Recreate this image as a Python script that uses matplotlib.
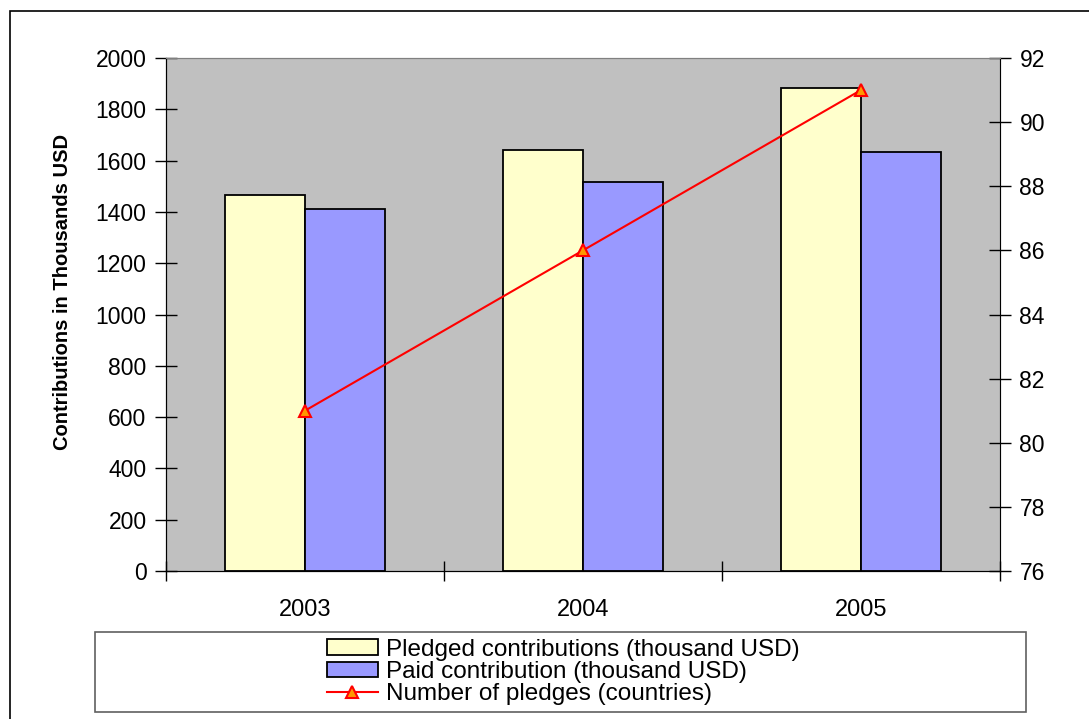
import numpy as np
import matplotlib.pyplot as plt
from matplotlib.patches import Rectangle
from matplotlib.ticker import FixedLocator, NullFormatter

plt.rcParams['font.family'] = ['Liberation Sans', 'DejaVu Sans']

# data
years = ['2003', '2004', '2005']
pledged = [1466, 1641, 1883]
paid = [1411, 1517, 1634]
pledges = [81, 86, 91]

fig = plt.figure(figsize=(10.89, 7.19), dpi=100)

# outer chart frame
fig.patches.append(Rectangle((10 / 1089, -0.1), 1.2, 1 - 11 / 719 + 0.1,
                             transform=fig.transFigure, fill=False,
                             edgecolor='black', linewidth=1.2))

ax = fig.add_axes([166 / 1089, 1 - 571 / 719, 834 / 1089, 513 / 719])
ax.set_facecolor('#C0C0C0')

x = np.arange(len(years))
w = 0.288
ax.bar(x - w / 2, pledged, w, color='#FFFFCC', edgecolor='black', linewidth=1.3,
       label='Pledged contributions (thousand USD)')
ax.bar(x + w / 2, paid, w, color='#9999FF', edgecolor='black', linewidth=1.3,
       label='Paid contribution (thousand USD)')

ax.set_xlim(-0.5, 2.5)
ax.set_ylim(0, 2000)
ax.set_yticks(range(0, 2001, 200))
ax.xaxis.set_major_locator(FixedLocator([-0.5, 0.5, 1.5, 2.5]))
ax.xaxis.set_major_formatter(NullFormatter())
ax.xaxis.set_minor_locator(FixedLocator(x))
ax.set_xticklabels(years, minor=True)
ax.tick_params(axis='x', which='major', direction='inout', length=14, width=1)
ax.tick_params(axis='x', which='minor', length=0, pad=20, labelsize=17)
ax.tick_params(axis='y', direction='inout', length=16, width=1, labelsize=16.5, pad=6)
ax.set_ylabel('Contributions in Thousands USD', fontsize=14.5, fontweight='bold')
ax.yaxis.set_label_coords(-0.113, 0.544)

ax.spines['top'].set_color('#808080')
ax.spines['right'].set_color('#808080')

ax2 = ax.twinx()
line, = ax2.plot(x, pledges, color='red', linewidth=1.5, marker='^', markersize=8,
                 markerfacecolor='#FF9900', markeredgecolor='red', markeredgewidth=1.5,
                 label='Number of pledges (countries)')
ax2.set_ylim(76, 92)
ax2.set_yticks(range(76, 93, 2))
ax2.tick_params(axis='y', direction='inout', length=16, width=1, labelsize=16.5, pad=6)
ax2.spines['right'].set_color('black')
ax2.spines['top'].set_color('#808080')

# legend box
fig.patches.append(Rectangle((95 / 1089, 1 - 712 / 719), 931 / 1089, 80 / 719,
                             transform=fig.transFigure, fill=False,
                             edgecolor='#606060', linewidth=1.2))
h1, l1 = ax.get_legend_handles_labels()
fig.legend(h1 + [line], l1 + [line.get_label()], loc='center',
           bbox_to_anchor=(563 / 1089, 1 - 672 / 719), frameon=False,
           fontsize=17.5, labelspacing=0.02, handlelength=2.1, handleheight=0.6,
           handletextpad=0.33, borderpad=0)

fig.savefig('out.png', dpi=100)
